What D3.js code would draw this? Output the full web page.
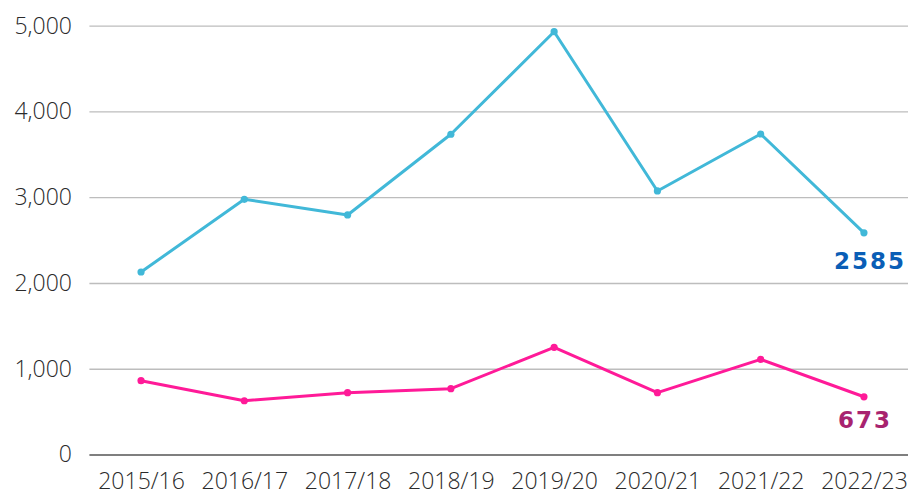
<!DOCTYPE html>
<html><head><meta charset="utf-8">
<script src="https://cdn.jsdelivr.net/npm/d3@7"></script>
<style>
html,body{margin:0;padding:0;background:#fff;}
svg{display:block;}
</style></head>
<body><svg id="chart" width="908" height="490"></svg>
<script>
const categories = ["2015/16","2016/17","2017/18","2018/19","2019/20","2020/21","2021/22","2022/23"];
const seriesBlue = [2128, 2976, 2793, 3734, 4930, 3073, 3737, 2585];
const seriesPink = [861, 627, 721, 767, 1250, 721, 1110, 673];
const yTicks = [0, 1000, 2000, 3000, 4000, 5000];
const endLabels = ["2585", "673"];

const svg = d3.select("#chart");
const mLeft = 89.4, mRight = 915.6, mTop = 25.7, mBottom = 454.5;

const x = d3.scalePoint().domain(categories).range([mLeft, mRight]).padding(0.5);
const y = d3.scaleLinear().domain([0, 5000]).range([mBottom, mTop]);

// gridlines
const gy = svg.append("g").attr("transform", `translate(${mLeft},0)`)
  .call(d3.axisLeft(y).tickValues(yTicks).tickSize(-(908 - mLeft)).tickFormat(d3.format(",")).tickPadding(17.5));
gy.select(".domain").remove();
gy.selectAll(".tick line").attr("stroke", d => d === 0 ? "#555" : "#bdbdbd").attr("stroke-width", 1.3);
gy.selectAll(".tick text").attr("font-family", "'Open Sans', sans-serif").attr("font-size", 23)
  .attr("fill", "#2a2a2a").attr("font-weight", 300);

const gx = svg.append("g").attr("transform", `translate(0,${mBottom})`)
  .call(d3.axisBottom(x).tickSize(0).tickPadding(18.5));
gx.select(".domain").remove();
gx.selectAll(".tick text").attr("font-family", "'Open Sans', sans-serif").attr("font-size", 23)
  .attr("fill", "#2a2a2a").attr("font-weight", 300);

function drawSeries(data, color) {
  const line = d3.line().x((d, i) => x(categories[i])).y(d => y(d));
  svg.append("path").datum(data).attr("d", line).attr("fill", "none")
    .attr("stroke", color).attr("stroke-width", 3).attr("stroke-linejoin", "round");
  svg.append("g").selectAll("circle").data(data).join("circle")
    .attr("cx", (d, i) => x(categories[i])).attr("cy", d => y(d)).attr("r", 3.6).attr("fill", color);
}
drawSeries(seriesBlue, "#41b8d8");
drawSeries(seriesPink, "#ff1a98");

const last = categories[categories.length - 1];
svg.append("text").attr("x", x(last) + 6).attr("y", y(seriesBlue[7]) + 36)
  .attr("text-anchor", "middle").attr("font-family", "'DejaVu Sans', sans-serif")
  .attr("font-weight", "bold").attr("font-size", 23).attr("letter-spacing", 2)
  .attr("fill", "#0a5eb6").text(endLabels[0]);
svg.append("text").attr("x", x(last) + 1).attr("y", y(seriesPink[7]) + 31)
  .attr("text-anchor", "middle").attr("font-family", "'DejaVu Sans', sans-serif")
  .attr("font-weight", "bold").attr("font-size", 23).attr("letter-spacing", 2)
  .attr("fill", "#a8236f").text(endLabels[1]);
</script></body></html>
